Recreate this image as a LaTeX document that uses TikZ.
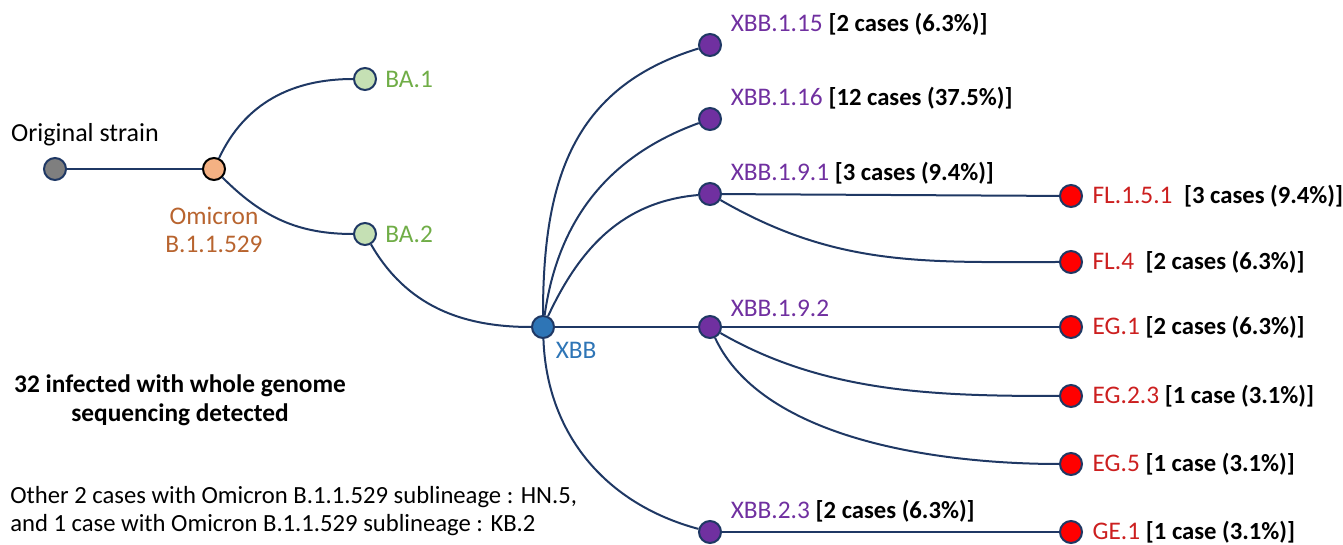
\documentclass[tikz,border=0pt]{standalone}
\usepackage{fontspec}
\setmainfont{Carlito}
\usetikzlibrary{positioning}
\definecolor{linkcol}{HTML}{1F3864}
\definecolor{origfill}{HTML}{7F7F7F}
\definecolor{omifill}{HTML}{F4B183}
\definecolor{omitext}{HTML}{B8642F}
\definecolor{bafill}{HTML}{C5E0B4}
\definecolor{batext}{HTML}{70AD47}
\definecolor{xbbcol}{HTML}{2E75B6}
\definecolor{subcol}{HTML}{7030A0}
\definecolor{redfill}{HTML}{FF0000}
\definecolor{redtext}{HTML}{CC1F1F}
\newcommand\ncount[1]{{\fontsize{18.5}{21}\selectfont\bfseries #1}}
\tikzset{
  strain/.style={circle,draw=linkcol,line width=1.5pt,minimum size=16.5pt,inner sep=0pt},
  txt/.style={inner sep=0pt,font=\fontsize{19}{21}\selectfont},
  link/.style={draw=linkcol,line width=1.5pt},
}
\begin{document}
\begin{tikzpicture}[x=0.75pt,y=-0.75pt]
  \useasboundingbox (0,0) rectangle (1343,545);
  \node[strain,fill=origfill] (orig) at (55,169) {};
  \node[strain,fill=omifill,draw=black] (omi) at (214,169) {};
  \node[strain,fill=bafill] (ba1) at (365,79) {};
  \node[strain,fill=bafill] (ba2) at (365,234) {};
  \node[strain,fill=xbbcol] (xbb) at (543,327) {};
  \node[strain,fill=subcol] (x115) at (710,45) {};
  \node[strain,fill=subcol] (x116) at (710,119) {};
  \node[strain,fill=subcol] (x191) at (710,194) {};
  \node[strain,fill=subcol] (x192) at (710,327) {};
  \node[strain,fill=subcol] (x23) at (710,532) {};
  \node[strain,fill=redfill] (fl151) at (1071,196) {};
  \node[strain,fill=redfill] (fl4) at (1071,262) {};
  \node[strain,fill=redfill] (eg1) at (1071,327) {};
  \node[strain,fill=redfill] (eg23) at (1071,396) {};
  \node[strain,fill=redfill] (eg5) at (1071,464) {};
  \node[strain,fill=redfill] (ge1) at (1071,532) {};

  \node[txt,font=\fontsize{19.5}{21}\selectfont] (origlbl) at (85,135) {Original strain};
  \node[txt,text=omitext,align=center,below=19pt of omi] (omilbl) {Omicron\\B.1.1.529};
  \node[txt,text=batext,right=6pt of ba1] (ba1lbl) {BA.1};
  \node[txt,text=batext,right=6pt of ba2] (ba2lbl) {BA.2};
  \node[txt,text=xbbcol,below right=5pt and 3pt of xbb] (xbblbl) {XBB};
  \node[txt,above right=1pt and 9pt of x115] (x115lbl) {\textcolor{subcol}{XBB.1.15} \ncount{[2 cases (6.3\%)]}};
  \node[txt,above right=1pt and 9pt of x116] (x116lbl) {\textcolor{subcol}{XBB.1.16} \ncount{[12 cases (37.5\%)]}};
  \node[txt,above right=1pt and 9pt of x191] (x191lbl) {\textcolor{subcol}{XBB.1.9.1} \ncount{[3 cases (9.4\%)]}};
  \node[txt,above right=1pt and 9pt of x192] (x192lbl) {\textcolor{subcol}{XBB.1.9.2}};
  \node[txt,above right=1pt and 9pt of x23] (x23lbl) {\textcolor{subcol}{XBB.2.3} \ncount{[2 cases (6.3\%)]}};
  \node[txt,right=7pt of fl151] (fl151lbl) {\textcolor{redtext}{FL.1.5.1}\ \ \ncount{[3 cases (9.4\%)]}};
  \node[txt,right=7pt of fl4] (fl4lbl) {\textcolor{redtext}{FL.4}\ \ \ncount{[2 cases (6.3\%)]}};
  \node[txt,right=7pt of eg1] (eg1lbl) {\textcolor{redtext}{EG.1} \ncount{[2 cases (6.3\%)]}};
  \node[txt,right=7pt of eg23] (eg23lbl) {\textcolor{redtext}{EG.2.3} \ncount{[1 case (3.1\%)]}};
  \node[txt,right=7pt of eg5] (eg5lbl) {\textcolor{redtext}{EG.5} \ncount{[1 case (3.1\%)]}};
  \node[txt,right=7pt of ge1] (ge1lbl) {\textcolor{redtext}{GE.1} \ncount{[1 case (3.1\%)]}};

  \node[txt,align=center,font=\fontsize{19}{22}\selectfont\bfseries] (total) at (180,400)
    {32 infected with whole genome\\sequencing detected};
  \node[txt,align=left,anchor=west,font=\fontsize{18.5}{21}\selectfont] (other) at (10,511)
    {Other 2 cases with Omicron B.1.1.529 sublineage : HN.5,\\and 1 case with Omicron B.1.1.529 sublineage : KB.2};

  \path[link]
    (orig) edge (omi)
    (omi) edge[out=65,in=180] (ba1)
          edge[out=-45,in=180] (ba2)
    (ba2) edge[out=-60,in=180] (xbb)
    (xbb) edge[out=90,in=197,looseness=1.1] (x115)
          edge[out=82,in=200] (x116)
          edge[out=65,in=185] (x191)
          edge[line width=0.8pt] (x192)
          edge[out=-88,in=165] (x23)
    (x191) edge (fl151)
           edge[out=-30,in=180] (fl4)
    (x192) edge (eg1)
           edge[out=-30,in=180,looseness=0.9] (eg23)
           edge[out=-65,in=180,looseness=0.8] (eg5)
    (x23) edge (ge1);
\end{tikzpicture}
\end{document}
